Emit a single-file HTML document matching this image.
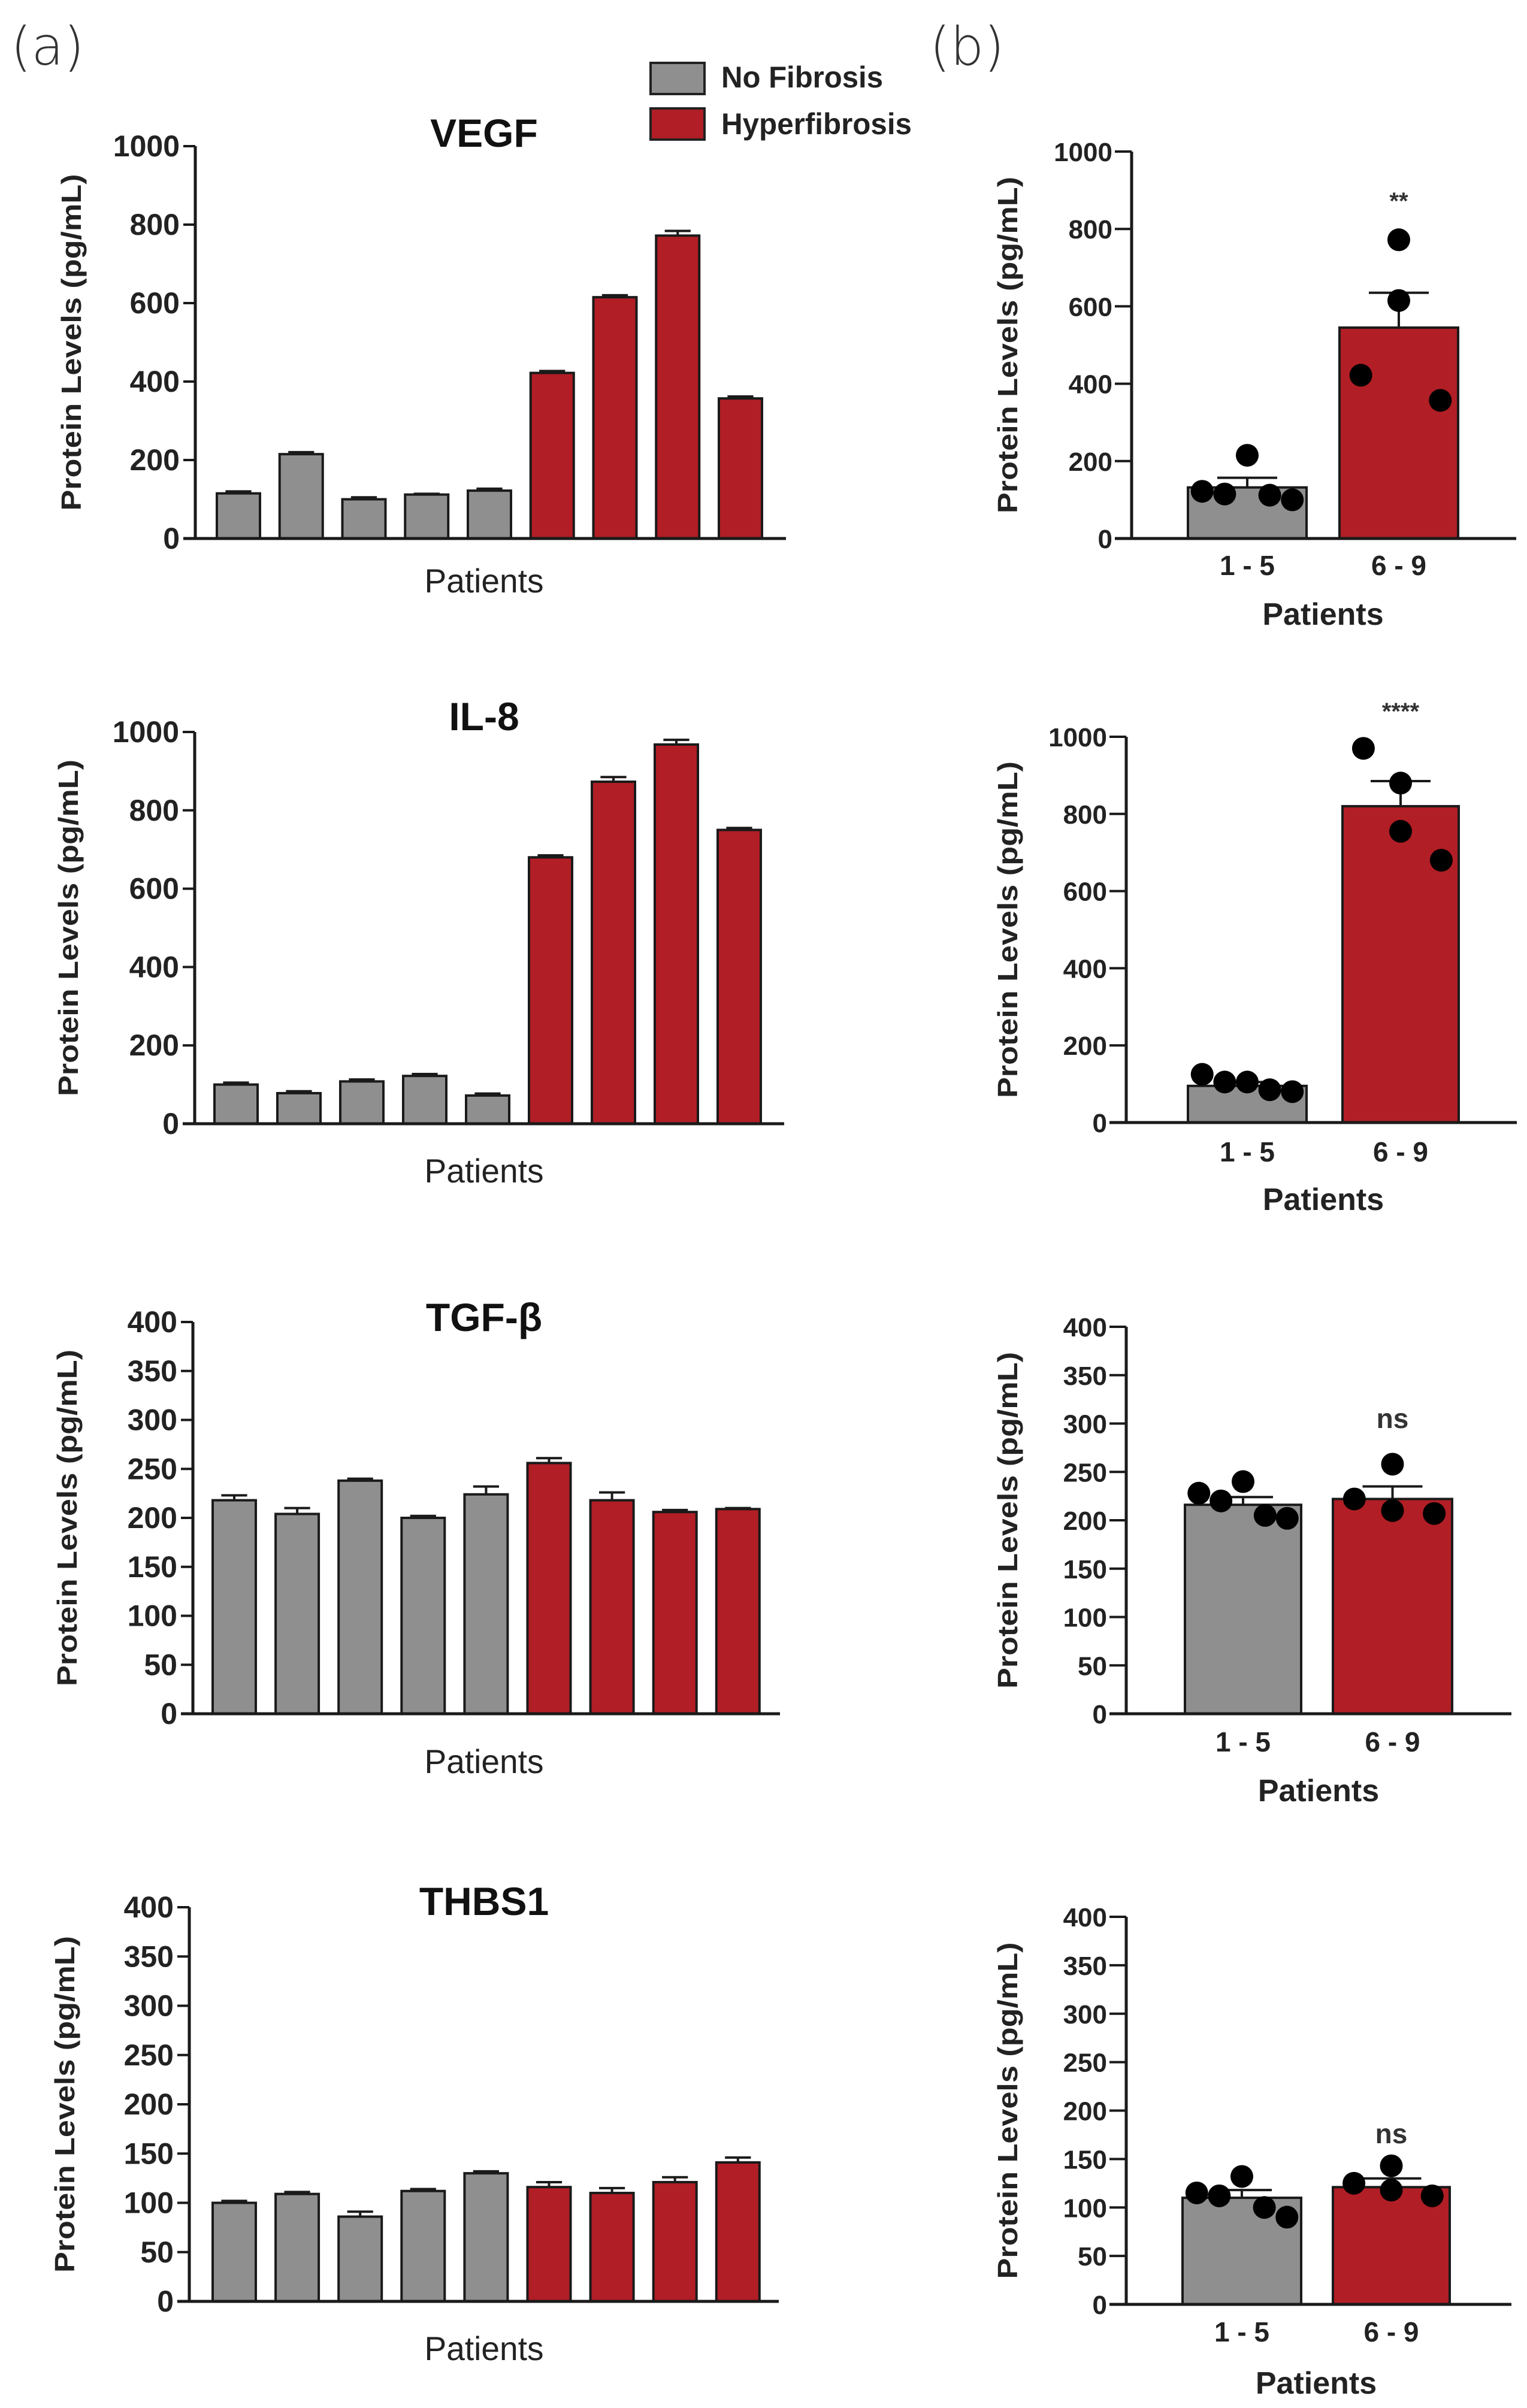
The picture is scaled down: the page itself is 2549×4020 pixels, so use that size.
<!DOCTYPE html>
<html><head><meta charset="utf-8"><style>
html,body{margin:0;padding:0;background:#fff;}
svg{display:block;}
</style></head><body>
<svg id="fig" width="2549" height="4020" viewBox="0 0 2549 4020" xmlns="http://www.w3.org/2000/svg">
<rect x="0" y="0" width="2549" height="4020" fill="#fff"/>
<text x="18" y="108" font-family="'DejaVu Sans','Liberation Sans',sans-serif" font-weight="200" font-size="88" fill="#333">(a)</text>
<text x="1552" y="108" font-family="'DejaVu Sans','Liberation Sans',sans-serif" font-weight="200" font-size="88" fill="#333">(b)</text>
<g>
<rect x="1086" y="105" width="90" height="52" fill="#8f8f8f" stroke="#222" stroke-width="4"/>
<text x="1204" y="146" font-family="'Liberation Sans Narrow','Liberation Sans',sans-serif" font-weight="bold" font-size="50" textLength="270" lengthAdjust="spacingAndGlyphs" fill="#222">No Fibrosis</text>
<rect x="1086" y="181" width="90" height="52" fill="#b11e25" stroke="#222" stroke-width="4"/>
<text x="1204" y="224" font-family="'Liberation Sans Narrow','Liberation Sans',sans-serif" font-weight="bold" font-size="50" textLength="318" lengthAdjust="spacingAndGlyphs" fill="#222">Hyperfibrosis</text>
</g>
</svg>
<script>
// ---- data ----
const patients = ['1','2','3','4','5','6','7','8','9'];
const groupLabels = ['1 - 5','6 - 9'];
const vegfVals = [115,215,100,112,122,422,615,772,357];
const vegfErr = [5,5,5,2,5,5,5,12,5];
const il8Vals = [100,78,108,122,72,680,873,968,750];
const il8Err = [5,5,5,5,5,5,12,12,5];
const tgfVals = [218,204,238,200,224,256,218,206,209];
const tgfErr = [5,6,2,2,8,5,8,2,1];
const thbsVals = [100,109,86,112,130,116,110,121,141];
const thbsErr = [2,2,5,2,2,5,5,5,5];

const vegfMeans = [132,545];
const vegfSem = [25,90];
const vegfPts1 = [122,115,215,112,100];
const vegfPts2 = [422,615,772,357];
const il8Means = [95,820];
const il8Sem = [10,65];
const il8Pts1 = [125,105,105,85,80];
const il8Pts2 = [970,880,755,680];
const tgfMeans = [216,222];
const tgfSem = [8,13];
const tgfPts1 = [228,220,240,205,202];
const tgfPts2 = [222,258,210,207];
const thbsMeans = [110,121];
const thbsSem = [8,9];
const thbsPts1 = [115,112,132,100,90];
const thbsPts2 = [125,143,118,112];

const ticks1000 = [0,200,400,600,800,1000];
const ticks400 = [0,50,100,150,200,250,300,350,400];
const sigLabels = ['**','****','ns','ns'];

// ---- drawing ----
const NS='http://www.w3.org/2000/svg';
const svg=document.getElementById('fig');
const GRAY='#8f8f8f', RED='#b11e25', INK='#1a1a1a';
function mk(tag,attrs,parent){const e=document.createElementNS(NS,tag);for(const k in attrs)e.setAttribute(k,attrs[k]);(parent||svg).appendChild(e);return e;}
function txt(s,attrs,parent){const e=mk('text',attrs,parent);e.textContent=s;return e;}

function leftPanel(name,title,vals,errs,ticks,L){
  const g=mk('g',{});
  
  
  const ymax=ticks[ticks.length-1];
  const y=v=>L.y0-(v/ymax)*(L.y0-L.ytop);
  const x=i=>L.bar0+i*L.step;
  vals.forEach((v,i)=>{
    const e=errs[i], cx=x(i)+L.bw/2;
    const ln=mk('line',{x1:cx,x2:cx,y1:y(v),y2:y(v+e),stroke:INK,'stroke-width':4},g);
    
    
    const cap=mk('line',{x1:cx-L.bw*0.3,x2:cx+L.bw*0.3,y1:y(v+e),y2:y(v+e),stroke:INK,'stroke-width':4},g);
    
    
    const r=mk('rect',{x:x(i),y:y(v),width:L.bw,height:L.y0-y(v),fill:i<5?GRAY:RED,stroke:INK,'stroke-width':4},g);
    
    
  });
  const ya=mk('line',{x1:L.ax,x2:L.ax,y1:L.ytop,y2:L.y0,stroke:INK,'stroke-width':5},g);
  
  
  const xa=mk('line',{x1:L.ax-20,x2:L.xend,y1:L.y0,y2:L.y0,stroke:INK,'stroke-width':5},g);
  
  
  ticks.forEach(t=>{
    const tk=mk('line',{x1:L.ax-20,x2:L.ax,y1:y(t),y2:y(t),stroke:INK,'stroke-width':4},g);
    
    
    const tl=txt(String(t),{x:L.ax-26,y:y(t)+17,'text-anchor':'end','font-family':"'Liberation Sans Narrow','Liberation Sans',sans-serif",'font-weight':'bold','font-size':50,fill:'#222'},g);
    
    
  });
  const mid=(L.ytop+L.y0)/2;
  const yt=txt('Protein Levels (pg/mL)',{x:0,y:0,transform:`translate(${L.ylx},${mid}) rotate(-90)`,'text-anchor':'middle','font-family':"'Liberation Sans',sans-serif",'font-weight':'bold','font-size':46,textLength:562,lengthAdjust:'spacingAndGlyphs',fill:'#222'},g);
  
  
  const xt=txt('Patients',{x:L.px,y:L.py+20,'text-anchor':'middle','font-family':"'Liberation Sans Narrow','Liberation Sans',sans-serif",'font-size':56,textLength:199,lengthAdjust:'spacingAndGlyphs',fill:'#222'},g);
  
  
  const tt=txt(title,{x:L.px,y:L.ty+24,'text-anchor':'middle','font-family':"'Liberation Sans',sans-serif",'font-weight':'bold','font-size':66,fill:'#111'},g);
  
  
}

function rightPanel(name,means,sems,pts1,pts2,ticks,sig,R){
  const g=mk('g',{});
  
  
  const ymax=ticks[ticks.length-1];
  const y=v=>R.y0-(v/ymax)*(R.y0-R.ytop);
  const fills=[GRAY,RED];
  means.forEach((m,i)=>{
    const b=R.bars[i], cx=(b[0]+b[1])/2;
    const r=mk('rect',{x:b[0],y:y(m),width:b[1]-b[0],height:R.y0-y(m),fill:fills[i],stroke:INK,'stroke-width':4},g);
    
    
    const ln=mk('line',{x1:cx,x2:cx,y1:y(m),y2:y(m+sems[i]),stroke:INK,'stroke-width':4},g);
    
    
    const cap=mk('line',{x1:cx-50,x2:cx+50,y1:y(m+sems[i]),y2:y(m+sems[i]),stroke:INK,'stroke-width':4},g);
    
    
    const lab=txt(groupLabels[i],{x:cx,y:R.ly+16,'text-anchor':'middle','font-family':"'Liberation Sans',sans-serif",'font-weight':'bold','font-size':46,fill:'#222'},g);
    
    
  });
  const pw1=R.bars[0][1]-R.bars[0][0], pw2=R.bars[1][1]-R.bars[1][0];
  pts1.forEach((v,i)=>{
    const cx=R.bars[0][0]+pw1*(0.12+i*0.19);
    const c=mk('circle',{cx:cx,cy:y(v),r:19,fill:'#000'},g);
    
    
  });
  const offs=[0.18,0.5,0.5,0.85];
  pts2.forEach((v,i)=>{
    const cx=R.bars[1][0]+pw2*offs[i];
    const c=mk('circle',{cx:cx,cy:y(v),r:19,fill:'#000'},g);
    
    
  });
  const ya=mk('line',{x1:R.ax,x2:R.ax,y1:R.ytop,y2:R.y0,stroke:INK,'stroke-width':5},g);
  
  
  const xa=mk('line',{x1:R.ax-28,x2:R.xend,y1:R.y0,y2:R.y0,stroke:INK,'stroke-width':5},g);
  
  
  ticks.forEach(t=>{
    const tk=mk('line',{x1:R.ax-28,x2:R.ax,y1:y(t),y2:y(t),stroke:INK,'stroke-width':4},g);
    
    
    const tl=txt(String(t),{x:R.ax-32,y:y(t)+16,'text-anchor':'end','font-family':"'Liberation Sans',sans-serif",'font-weight':'bold','font-size':44,fill:'#222'},g);
    
    
  });
  const mid=(R.ytop+R.y0)/2;
  const yt=txt('Protein Levels (pg/mL)',{x:0,y:0,transform:`translate(1698,${mid}) rotate(-90)`,'text-anchor':'middle','font-family':"'Liberation Sans',sans-serif",'font-weight':'bold','font-size':46,textLength:562,lengthAdjust:'spacingAndGlyphs',fill:'#222'},g);
  
  
  const xt=txt('Patients',{x:(R.bars[0][0]+R.bars[1][1])/2,y:R.py+18,'text-anchor':'middle','font-family':"'Liberation Sans',sans-serif",'font-weight':'bold','font-size':52,fill:'#222'},g);
  
  
  const s=txt(sig,{x:(R.bars[1][0]+R.bars[1][1])/2,y:R.sy+16,'text-anchor':'middle','font-family':"'Liberation Sans',sans-serif",'font-weight':'bold','font-size':sig==='ns'?46:40,fill:'#333'},g);
  
  
}

leftPanel('vegf','VEGF',vegfVals,vegfErr,ticks1000,{ax:326,y0:899,ytop:244,xend:1312,bar0:362,step:104.75,bw:72,ylx:135,px:808,py:969,ty:221});
leftPanel('il8','IL-8',il8Vals,il8Err,ticks1000,{ax:325,y0:1876,ytop:1222,xend:1309,bar0:358,step:105,bw:72,ylx:130,px:808,py:1954,ty:1195});
leftPanel('tgf','TGF-\u03b2',tgfVals,tgfErr,ticks400,{ax:322,y0:2861,ytop:2207,xend:1302,bar0:355,step:105.1,bw:72,ylx:128,px:808,py:2940,ty:2198});
leftPanel('thbs1','THBS1',thbsVals,thbsErr,ticks400,{ax:316,y0:3842,ytop:3184,xend:1300,bar0:355,step:105.1,bw:72,ylx:124,px:808,py:3920,ty:3173});

rightPanel('vegf',vegfMeans,vegfSem,vegfPts1,vegfPts2,ticks1000,sigLabels[0],{ax:1889,y0:899,ytop:253,xend:2531,bars:[[1983,2181],[2236,2434]],ly:944,py:1025,sy:333});
rightPanel('il8',il8Means,il8Sem,il8Pts1,il8Pts2,ticks1000,sigLabels[1],{ax:1880,y0:1874,ytop:1230,xend:2532,bars:[[1983,2181],[2241,2435]],ly:1923,py:2002,sy:1185});
rightPanel('tgf',tgfMeans,tgfSem,tgfPts1,tgfPts2,ticks400,sigLabels[2],{ax:1880,y0:2861,ytop:2215,xend:2523,bars:[[1978,2172],[2225,2424]],ly:2908,py:2989,sy:2368});
rightPanel('thbs1',thbsMeans,thbsSem,thbsPts1,thbsPts2,ticks400,sigLabels[3],{ax:1880,y0:3847,ytop:3200,xend:2523,bars:[[1974,2172],[2225,2420]],ly:3893,py:3978,sy:3562});
</script>
</body></html>
